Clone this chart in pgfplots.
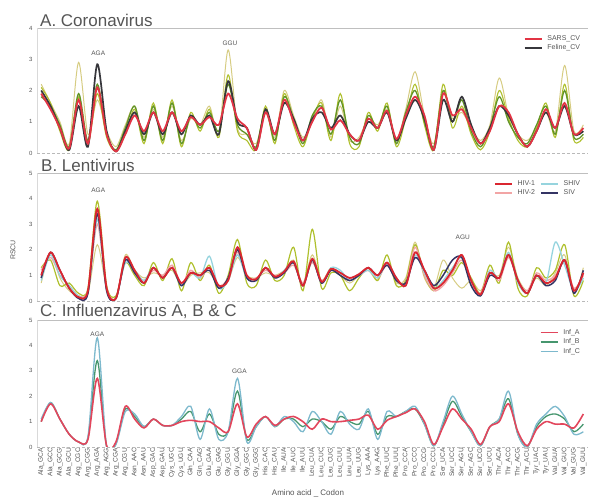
\documentclass[border=0pt]{standalone}
\usepackage{pgfplots}
\pgfplotsset{compat=1.18}
\usepackage{pgfplotstable}
\usepackage{fontspec}
\setmainfont{Liberation Sans}

\definecolor{sars}{RGB}{226,52,68}
\definecolor{feline}{RGB}{55,55,60}
\definecolor{gA}{RGB}{98,148,38}
\definecolor{gB}{RGB}{175,192,45}
\definecolor{gC}{RGB}{214,204,130}
\definecolor{hivone}{RGB}{218,38,48}
\definecolor{hivtwo}{RGB}{242,165,165}
\definecolor{shiv}{RGB}{150,212,222}
\definecolor{siv}{RGB}{52,52,100}
\definecolor{colInfA}{RGB}{226,70,92}
\definecolor{colInfB}{RGB}{70,150,110}
\definecolor{colInfC}{RGB}{125,185,205}
\definecolor{txt}{RGB}{85,85,85}

% Panel A: Coronavirus
\pgfplotstableread{
i r d g1 g2 g3
0 1.9 2.0 1.8 2.1 2.2
1 1.4 1.5 1.5 1.6 1.6
2 0.8 0.8 0.9 0.7 1.0
3 0.15 0.1 0.2 0.1 0.3
4 1.7 1.5 1.9 1.8 2.9
5 0.3 0.2 0.4 0.3 0.6
6 2.1 2.84 2.2 1.9 1.7
7 0.6 0.7 0.6 0.5 0.7
8 0.05 0.05 0.1 0.05 0.2
9 0.6 0.7 0.8 0.6 0.9
10 1.2 1.3 1.5 1.4 1.5
11 0.7 0.6 0.4 0.3 0.5
12 1.3 1.3 1.5 1.6 1.4
13 0.7 0.6 0.4 0.3 0.5
14 1.3 1.3 1.6 1.7 1.5
15 0.7 0.6 0.3 0.2 0.4
16 1.15 1.2 1.2 1.3 1.1
17 0.9 0.9 0.8 0.7 0.9
18 1.15 1.2 1.3 1.4 1.5
19 0.9 0.6 0.7 0.5 0.6
20 1.9 2.3 2.2 2.5 3.3
21 1.1 1.0 0.9 0.7 0.8
22 0.8 0.8 0.6 0.4 0.6
23 0.1 0.1 0.2 0.1 0.3
24 1.3 1.4 1.4 1.5 1.3
25 0.6 0.6 0.4 0.3 0.5
26 1.7 1.6 1.8 1.9 2.0
27 1.0 1.1 1.1 0.9 1.2
28 0.4 0.4 0.3 0.2 0.5
29 1.0 1.1 1.2 1.1 1.0
30 1.45 1.3 1.5 1.6 1.7
31 0.75 0.8 0.6 0.4 0.5
32 1.05 1.2 1.7 1.9 1.5
33 0.6 0.6 0.5 0.3 0.4
34 0.4 0.4 0.3 0.2 0.5
35 1.1 1.0 1.2 1.3 1.1
36 0.8 0.8 0.8 0.7 0.9
37 1.35 1.3 1.5 1.6 1.4
38 0.45 0.4 0.3 0.2 0.4
39 1.2 1.1 1.3 1.1 1.4
40 1.8 1.7 2.0 2.2 2.6
41 1.2 1.1 1.0 0.9 1.2
42 0.1 0.1 0.2 0.1 0.3
43 1.9 1.7 2.0 2.2 1.9
44 1.2 1.0 1.0 0.8 1.1
45 1.4 1.8 1.7 1.5 1.3
46 0.8 0.9 0.7 0.6 0.8
47 0.3 0.3 0.2 0.1 0.4
48 0.7 0.8 0.8 0.7 0.9
49 1.5 1.5 1.8 2.0 2.4
50 1.3 1.2 1.0 1.1 1.2
51 0.6 0.6 0.5 0.4 0.6
52 0.2 0.2 0.3 0.2 0.4
53 0.7 0.7 0.9 0.8 0.8
54 1.4 1.3 1.5 1.6 1.3
55 0.8 0.8 0.6 0.5 0.7
56 1.6 1.5 2.0 2.2 2.8
57 0.6 0.6 0.5 0.4 0.7
58 0.8 0.7 0.6 0.5 0.9
}\tabA

% Panel B: Lentivirus
\pgfplotstableread{
i r p c n g1 g2
0 1.0 1.2 0.8 0.9 1.3 0.7
1 1.9 1.7 1.8 1.9 1.6 1.9
2 1.2 1.0 1.0 1.2 0.6 0.9
3 0.5 0.6 0.6 0.5 0.7 0.4
4 0.15 0.2 0.2 0.1 0.3 0.2
5 0.4 0.4 0.3 0.3 0.5 0.3
6 3.6 3.0 3.2 3.4 3.9 2.2
7 0.5 0.5 0.4 0.4 0.6 0.5
8 0.1 0.1 0.1 0.1 0.2 0.1
9 1.7 1.6 1.5 1.6 1.5 1.8
10 1.2 1.1 1.2 1.1 1.0 1.2
11 0.7 0.8 0.8 0.7 0.6 0.9
12 1.3 1.2 1.3 1.3 1.5 1.1
13 0.9 1.0 0.9 0.9 0.8 1.0
14 1.3 1.4 1.3 1.3 1.65 1.2
15 0.7 0.7 0.6 0.6 0.4 0.6
16 1.1 1.2 1.1 1.1 1.5 1.0
17 1.0 0.9 0.9 1.0 0.8 1.1
18 1.3 1.3 1.75 1.2 1.4 1.1
19 0.6 0.6 0.5 0.5 0.3 0.6
20 0.8 0.9 0.8 0.9 1.0 0.8
21 2.1 1.9 1.8 2.0 2.4 1.7
22 1.0 0.9 0.9 0.9 0.7 1.0
23 0.85 0.9 0.8 0.8 0.6 0.9
24 1.3 1.2 1.3 1.3 1.6 1.1
25 0.95 1.0 0.9 0.9 0.8 1.0
26 1.15 1.1 1.2 1.1 1.0 1.2
27 1.55 1.4 1.5 1.5 2.1 1.6
28 0.6 0.7 0.6 0.6 0.4 0.7
29 1.65 1.5 1.6 1.6 2.8 1.8
30 0.75 0.8 0.7 0.7 0.5 0.8
31 1.25 1.2 1.3 1.2 1.1 1.3
32 1.1 1.1 1.2 1.0 1.0 1.0
33 0.9 0.9 0.8 0.8 0.4 0.7
34 1.05 1.0 1.0 1.0 0.9 1.0
35 1.3 1.2 1.2 1.3 1.3 1.2
36 1.0 0.9 0.9 1.0 0.8 0.8
37 1.5 1.4 1.5 1.4 1.8 1.5
38 0.9 0.8 0.9 0.8 0.6 0.7
39 0.6 0.7 0.6 0.7 0.8 0.9
40 1.9 2.1 1.8 1.7 2.2 2.3
41 1.2 1.0 1.1 1.2 1.0 0.9
42 0.5 0.4 0.5 0.6 0.4 0.5
43 0.7 0.6 0.8 1.0 1.2 1.6
44 1.2 1.1 1.3 1.6 1.0 0.9
45 1.8 1.6 1.7 1.7 1.5 0.5
46 0.8 0.7 0.8 0.6 0.9 0.8
47 0.25 0.3 0.2 0.2 0.3 0.4
48 1.1 1.2 1.2 1.0 1.4 1.1
49 0.9 0.8 0.9 0.9 0.7 1.0
50 1.8 1.7 1.9 1.8 2.3 2.1
51 0.8 0.8 0.7 0.8 0.5 0.9
52 0.3 0.4 0.3 0.3 0.2 0.4
53 1.0 1.1 1.0 1.0 1.3 0.9
54 0.7 0.8 0.7 0.6 0.9 0.6
55 0.9 1.0 2.3 0.8 1.2 1.1
56 1.6 1.5 1.4 1.6 2.2 1.8
57 0.4 0.5 0.4 0.3 0.2 0.3
58 1.1 1.0 0.9 1.2 0.8 1.3
}\tabB

% Panel C: Influenzavirus
\pgfplotstableread{
i a b c
0 1.0 1.0 1.1
1 1.7 1.75 1.75
2 1.1 1.1 1.1
3 0.5 0.5 0.5
4 0.2 0.2 0.2
5 0.3 0.35 0.4
6 2.7 3.4 4.3
7 0.05 0.0 0.0
8 0.2 0.15 0.1
9 1.6 1.5 1.4
10 1.1 1.2 1.3
11 0.75 0.8 0.8
12 1.1 1.1 1.1
13 0.85 0.85 0.85
14 0.85 0.85 0.85
15 1.0 1.1 1.2
16 1.05 1.4 1.6
17 1.0 0.6 0.3
18 1.0 1.3 1.5
19 0.75 0.5 0.3
20 0.6 0.6 0.6
21 1.7 2.2 2.7
22 0.4 0.3 0.2
23 0.9 0.8 0.8
24 1.2 1.2 1.2
25 0.85 0.8 0.8
26 1.1 1.1 1.2
27 1.2 1.1 1.0
28 1.0 0.8 0.6
29 0.7 1.1 1.4
30 1.1 1.0 1.0
31 1.0 0.7 0.5
32 1.0 1.2 1.4
33 1.05 1.0 0.9
34 1.1 0.9 0.7
35 1.25 1.4 1.5
36 0.7 0.5 0.3
37 1.05 1.2 1.4
38 1.2 1.2 1.2
39 1.35 1.4 1.4
40 1.5 1.5 1.6
41 1.0 0.9 0.9
42 0.1 0.05 0.05
43 0.8 0.9 1.0
44 1.5 1.8 2.0
45 1.1 1.2 1.3
46 0.7 0.6 0.6
47 0.1 0.05 0.05
48 0.8 0.8 0.8
49 1.0 1.1 1.1
50 1.7 1.9 2.2
51 0.6 0.5 0.5
52 0.05 0.0 0.0
53 0.7 0.8 0.9
54 1.0 1.2 1.3
55 0.9 1.3 1.6
56 0.9 1.1 1.2
57 0.75 0.6 0.5
58 1.3 0.9 0.6
}\tabC

\tikzset{ann/.style={font=\fontsize{6.5}{7}\selectfont, text=txt}}

\pgfplotsset{
  panel/.style={
    scale only axis, width=551pt,
    xmin=-0.45, xmax=58.5, ymin=0,
    axis line style={draw=none},
    tick style={draw=none},
    /pgf/number format/assume math mode=true,
    yticklabel style={font=\fontsize{6}{6}\selectfont, text=txt, xshift=-1pt},
    xtick=\empty,
    extra y ticks={0}, extra y tick labels={},
    extra y tick style={grid=major, major grid style={densely dashed, gray!55, line width=0.6pt}},
    legend style={draw=none, fill=none, font=\fontsize{7}{8}\selectfont, text=txt,
      at={(0.995,0.97)}, anchor=north east, row sep=-1.5pt, column sep=3pt},
    legend cell align=left,
    legend image code/.code={\draw[##1, line width=1.6pt] (0pt,0pt) -- (17pt,0pt);},
    after end axis/.code={
      \draw[gray!50, line width=0.7pt] (rel axis cs:0,1) -- (rel axis cs:1,1);
      \draw[gray!30, line width=0.4pt] (rel axis cs:0,0) -- (rel axis cs:0,1);
    },
    every axis plot/.append style={smooth, no markers},
  },
}

\begin{document}
\begin{tikzpicture}
\path[use as bounding box] (0pt,0pt) rectangle (590pt,-502pt);

% ---------- A ----------
\begin{axis}[panel, at={(37pt,-153pt)}, anchor=south west, height=125pt,
  ymax=4, ytick={0,1,2,3,4}]
\addplot[gC, line width=1pt, forget plot] table[x=i,y=g3]{\tabA};
\addplot[gB, line width=1.1pt, forget plot] table[x=i,y=g2]{\tabA};
\addplot[gA, line width=1.3pt, forget plot] table[x=i,y=g1]{\tabA};
\addplot[feline, line width=1.7pt, forget plot] table[x=i,y=d]{\tabA};
\addplot[sars, line width=1.8pt, forget plot] table[x=i,y=r]{\tabA};
\addlegendimage{sars}\addlegendentry{SARS\_CV}
\addlegendimage{feline}\addlegendentry{Feline\_CV}
\node[ann] at (axis cs:6.1,3.18) {AGA};
\node[ann] at (axis cs:20.2,3.5) {GGU};
\end{axis}

% ---------- B ----------
\begin{axis}[panel, at={(37pt,-301pt)}, anchor=south west, height=128pt,
  ymax=5, ytick={0,1,2,3,4,5}, legend columns=2]
\addplot[gC, line width=1pt, forget plot] table[x=i,y=g2]{\tabB};
\addplot[gB, line width=1.2pt, forget plot] table[x=i,y=g1]{\tabB};
\addplot[hivtwo, line width=1.3pt, forget plot] table[x=i,y=p]{\tabB};
\addplot[shiv, line width=1.3pt, forget plot] table[x=i,y=c]{\tabB};
\addplot[siv, line width=1.5pt, forget plot] table[x=i,y=n]{\tabB};
\addplot[hivone, line width=1.8pt, forget plot] table[x=i,y=r]{\tabB};
\addlegendimage{hivone}\addlegendentry{HIV-1}
\addlegendimage{shiv}\addlegendentry{SHIV}
\addlegendimage{hivtwo}\addlegendentry{HIV-2}
\addlegendimage{siv}\addlegendentry{SIV}
\node[ann] at (axis cs:6.1,4.33) {AGA};
\node[ann] at (axis cs:45.1,2.5) {AGU};
\end{axis}

% ---------- C ----------
\begin{axis}[panel, at={(37pt,-447pt)}, anchor=south west, height=127pt,
  ymax=5, ytick={0,1,2,3,4,5},
  xtick={0,...,58},
  xticklabels={Ala\_GCA,Ala\_GCC,Ala\_GCG,Ala\_GCU,Arg\_CGC,Arg\_CGG,Arg\_AGA,Arg\_AGG,Arg\_CGA,Arg\_CGU,Asn\_AAC,Asn\_AAU,Asp\_GAC,Asp\_GAU,Cys\_UGC,Cys\_UGU,Gln\_CAA,Gln\_CAG,Glu\_GAA,Glu\_GAG,Gly\_GGU,Gly\_GGA,Gly\_GGC,Gly\_GGG,His\_CAC,His\_CAU,Ile\_AUA,Ile\_AUC,Ile\_AUU,Leu\_CUA,Leu\_CUC,Leu\_CUG,Leu\_CUU,Leu\_UUA,Leu\_UUG,Lys\_AAA,Lys\_AAG,Phe\_UUC,Phe\_UUU,Pro\_CCA,Pro\_CCC,Pro\_CCG,Pro\_CCU,Ser\_UCA,Ser\_UCC,Ser\_AGU,Ser\_AGC,Ser\_UCG,Ser\_UCU,Thr\_ACA,Thr\_ACC,Thr\_ACG,Thr\_ACU,Tyr\_UAC,Tyr\_UAU,Val\_GUA,Val\_GUC,Val\_GUG,Val\_GUU},
  xticklabel style={rotate=90, anchor=east, font=\fontsize{6.6}{6.6}\selectfont, text=txt, inner sep=1pt},
  legend style={at={(0.995,0.96)}, row sep=-1pt}]
\addplot[colInfB, line width=1.3pt, forget plot] table[x=i,y=b]{\tabC};
\addplot[colInfC, line width=1.3pt, forget plot] table[x=i,y=c]{\tabC};
\addplot[colInfA, line width=1.6pt, forget plot] table[x=i,y=a]{\tabC};
\addlegendimage{colInfA, line width=1.8pt}\addlegendentry{Inf\_A}
\addlegendimage{colInfB, line width=1.8pt}\addlegendentry{Inf\_B}
\addlegendimage{colInfC, line width=1.8pt}\addlegendentry{Inf\_C}
\node[ann] at (axis cs:6,4.45) {AGA};
\node[ann] at (axis cs:21.2,3.0) {GGA};
\end{axis}

% titles and labels
\node[anchor=south west, inner sep=0pt, font=\fontsize{17}{17}\selectfont, text=txt] at (40pt,-27pt) {A. Coronavirus};
\node[anchor=south west, inner sep=0pt, font=\fontsize{17}{17}\selectfont, text=txt] at (41pt,-172pt) {B. Lentivirus};
\node[anchor=south west, inner sep=0pt, font=\fontsize{17}{17}\selectfont, text=txt] at (40pt,-319pt) {C. Influenzavirus A, B \& C};
\node[rotate=90, font=\fontsize{7}{7}\selectfont, text=txt] at (13pt,-250pt) {RSCU};
\node[font=\fontsize{8}{8}\selectfont, text=txt] at (308pt,-493pt) {Amino acid \_ Codon};
\end{tikzpicture}
\end{document}
